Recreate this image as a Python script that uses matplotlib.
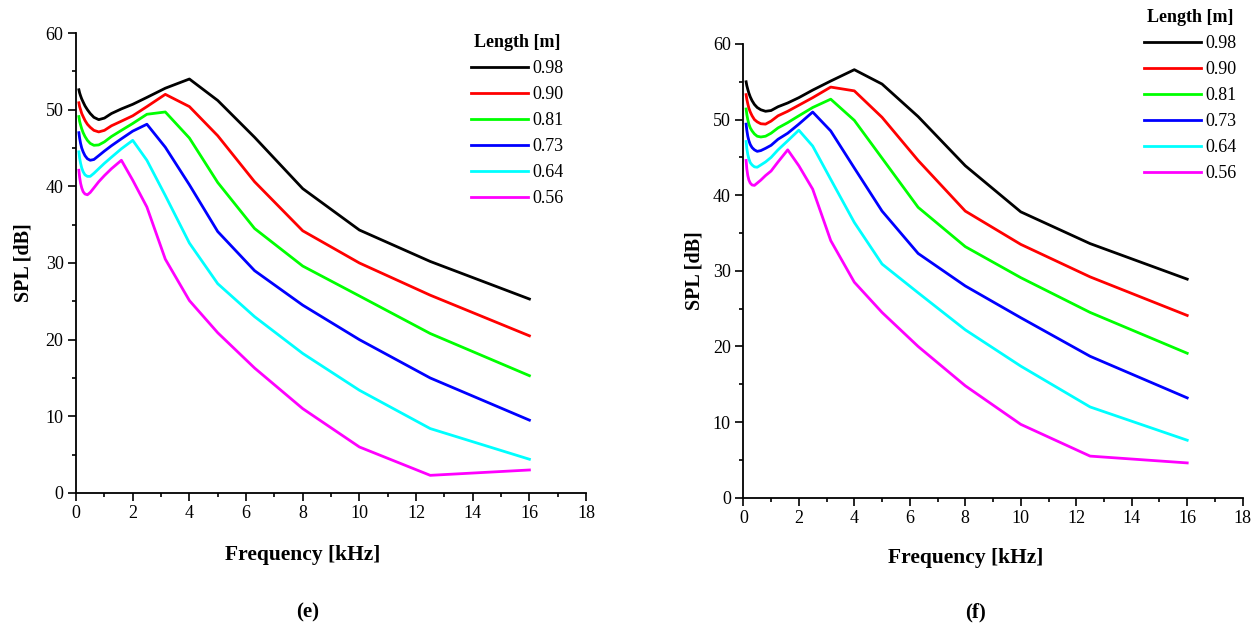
import numpy as np
import matplotlib
matplotlib.use('Agg')
import matplotlib.pyplot as plt
from matplotlib.ticker import MultipleLocator

plt.rcParams['font.family'] = ['Liberation Serif', 'DejaVu Serif']

freq = [0.1, 0.125, 0.16, 0.2, 0.25, 0.315, 0.4, 0.5, 0.63, 0.8, 1.0, 1.25,
        1.6, 2.0, 2.5, 3.15, 4.0, 5.0, 6.3, 8.0, 10.0, 12.5, 16.0]

lengths = ['0.98', '0.90', '0.81', '0.73', '0.64', '0.56']
colors = ['#000000', '#ff0000', '#00ff00', '#0000ff', '#00ffff', '#ff00ff']

# panel (e)
spl_e_098 = [52.6, 52.2, 51.8, 51.4, 51.0, 50.5, 50.0, 49.5, 49.0, 48.7, 48.9, 49.5,
             50.1, 50.7, 51.6, 52.8, 54.0, 51.2, 46.4, 39.7, 34.3, 30.2, 25.3]
spl_e_090 = [50.9, 50.4, 50.0, 49.5, 49.1, 48.6, 48.1, 47.7, 47.3, 47.1, 47.3, 47.9,
             48.5, 49.2, 50.4, 52.0, 50.4, 46.6, 40.6, 34.2, 30.0, 25.8, 20.5]
spl_e_081 = [49.1, 48.5, 48.0, 47.5, 47.0, 46.5, 46.0, 45.6, 45.35, 45.4, 45.8, 46.5,
             47.3, 48.2, 49.4, 49.7, 46.3, 40.5, 34.5, 29.6, 25.7, 20.8, 15.3]
spl_e_073 = [47.0, 46.3, 45.6, 45.0, 44.5, 44.0, 43.6, 43.4, 43.5, 44.0, 44.6, 45.3,
             46.2, 47.2, 48.1, 45.1, 40.2, 34.1, 29.0, 24.5, 20.0, 15.0, 9.5]
spl_e_064 = [44.5, 43.7, 43.0, 42.4, 41.9, 41.5, 41.3, 41.3, 41.7, 42.3, 43.0, 43.8,
             44.9, 46.0, 43.4, 38.8, 32.6, 27.3, 23.0, 18.2, 13.4, 8.4, 4.4]
spl_e_056 = [42.1, 41.2, 40.4, 39.8, 39.3, 39.0, 38.9, 39.2, 39.8, 40.6, 41.4, 42.3,
             43.4, 40.8, 37.3, 30.5, 25.1, 20.9, 16.3, 11.0, 6.0, 2.3, 3.0]

# panel (f)
spl_f_098 = [55.0, 54.5, 54.0, 53.5, 53.0, 52.5, 52.0, 51.6, 51.3, 51.1, 51.2, 51.7,
             52.2, 52.9, 53.9, 55.1, 56.6, 54.7, 50.4, 43.9, 37.8, 33.6, 28.9]
spl_f_090 = [53.3, 52.7, 52.1, 51.5, 51.0, 50.5, 50.0, 49.7, 49.45, 49.4, 49.8, 50.5,
             51.1, 51.9, 52.9, 54.3, 53.8, 50.3, 44.6, 37.9, 33.5, 29.2, 24.1]
spl_f_081 = [51.4, 50.7, 50.0, 49.4, 48.9, 48.5, 48.1, 47.8, 47.7, 47.8, 48.2, 48.9,
             49.6, 50.5, 51.6, 52.7, 49.9, 44.9, 38.4, 33.2, 29.1, 24.5, 19.1]
spl_f_073 = [49.4, 48.6, 47.8, 47.2, 46.7, 46.3, 46.0, 45.8, 45.9, 46.2, 46.6, 47.4,
             48.2, 49.4, 51.0, 48.5, 43.6, 37.9, 32.3, 28.0, 23.8, 18.7, 13.2]
spl_f_064 = [47.1, 46.2, 45.4, 44.8, 44.3, 44.0, 43.75, 43.7, 44.0, 44.4, 45.0, 46.0,
             47.2, 48.6, 46.5, 42.1, 36.4, 30.9, 27.1, 22.2, 17.4, 12.0, 7.6]
spl_f_056 = [44.6, 43.5, 42.6, 42.0, 41.6, 41.35, 41.3, 41.6, 42.0, 42.6, 43.2, 44.4,
             46.0, 43.9, 40.8, 34.0, 28.5, 24.5, 20.0, 14.8, 9.7, 5.5, 4.6]

panel_e = [spl_e_098, spl_e_090, spl_e_081, spl_e_073, spl_e_064, spl_e_056]
panel_f = [spl_f_098, spl_f_090, spl_f_081, spl_f_073, spl_f_064, spl_f_056]

fig = plt.figure(figsize=(12.55, 6.3), dpi=100)
ax_e = fig.add_axes([0.0606, 0.2175, 0.4064, 0.7301])
ax_f = fig.add_axes([0.5923, 0.2100, 0.3979, 0.7202])


def style(ax, ylab_x, xlab_y):
    for side in ['top', 'right']:
        ax.spines[side].set_visible(False)
    for side in ['left', 'bottom']:
        ax.spines[side].set_linewidth(1.3)
    ax.set_xlim(0, 18)
    ax.set_ylim(0, 60)
    ax.xaxis.set_major_locator(MultipleLocator(2))
    ax.xaxis.set_minor_locator(MultipleLocator(1))
    ax.yaxis.set_major_locator(MultipleLocator(10))
    ax.yaxis.set_minor_locator(MultipleLocator(5))
    ax.tick_params(which='major', direction='out', length=6, width=1.2,
                   labelsize=13, pad=3)
    ax.tick_params(which='minor', direction='out', length=3, width=1.2)
    ax.set_xlabel('Frequency [kHz]', fontsize=15.5, fontweight='bold')
    ax.set_ylabel('SPL [dB]', fontsize=14.5, fontweight='bold')
    ax.xaxis.set_label_coords(0.445, xlab_y)
    ax.yaxis.set_label_coords(ylab_x, 0.5)


for ax, series in [(ax_e, panel_e), (ax_f, panel_f)]:
    for vals, lab, c in zip(series, lengths, colors):
        ax.plot(freq, vals, color=c, lw=2.0, label=lab, clip_on=False)

style(ax_e, -0.084, -0.113)
style(ax_f, -0.077, -0.111)

leg_kw = dict(frameon=False, fontsize=13, title='Length [m]',
              title_fontproperties={'weight': 'bold', 'size': 13},
              handlelength=3.15, handletextpad=0.25, labelspacing=0.5,
              borderpad=0, borderaxespad=0, loc='upper left',
              bbox_transform=fig.transFigure)
ax_e.legend(bbox_to_anchor=(471 / 1255, 1 - 34 / 630), **leg_kw)
ax_f.legend(bbox_to_anchor=(1144 / 1255, 1 - 9 / 630), **leg_kw)

fig.text(308 / 1255, 1 - 612 / 630, '(e)', fontsize=15, fontweight='bold',
         ha='center', va='center')
fig.text(975 / 1255, 1 - 612 / 630, '(f)', fontsize=15, fontweight='bold',
         ha='center', va='center')

fig.savefig('out.png', dpi=100)
